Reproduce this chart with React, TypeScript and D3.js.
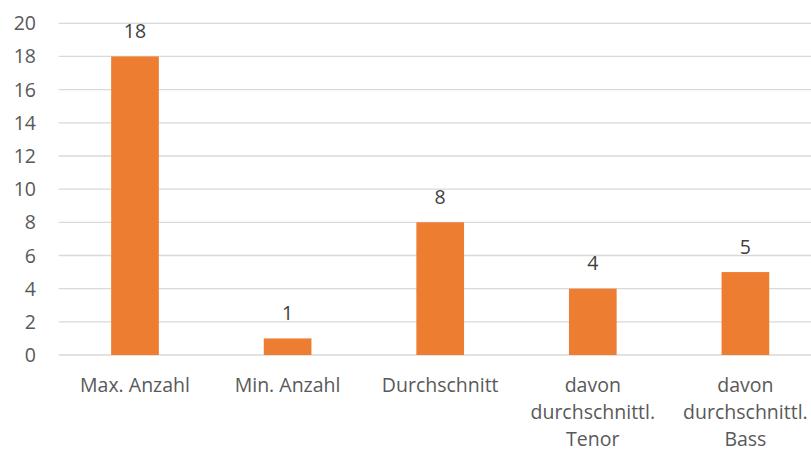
import React, { useEffect, useRef } from 'react';
import * as d3 from 'd3';

const categories = [
  'Max. Anzahl',
  'Min. Anzahl',
  'Durchschnitt',
  'davon durchschnittl. Tenor',
  'davon durchschnittl. Bass',
];
const values = [18, 1, 8, 4, 5];
const yTicks = [0, 2, 4, 6, 8, 10, 12, 14, 16, 18, 20];

const App: React.FC = () => {
  const svgRef = useRef<SVGSVGElement>(null);

  useEffect(() => {
    document.body.style.margin = '0';
    if (!svgRef.current) return;

    const width = 811;
    const height = 452;
    const font = '"Open Sans", sans-serif';
    const textColor = '#595959';
    const fs = '19.5px';

    const svg = d3.select(svgRef.current)
      .attr('width', width)
      .attr('height', height)
      .style('font-family', font)
      .style('display', 'block');

    svg.selectAll('*').remove();

    const x = d3.scaleBand<string>()
      .domain(categories)
      .range([58.7, 821.7])
      .paddingInner(0.6875)
      .paddingOuter(0.34375);

    const y = d3.scaleLinear().domain([0, 20]).range([355, 23.3]);

    // gridlines
    svg.append('g')
      .selectAll('line')
      .data(yTicks)
      .enter().append('line')
      .attr('x1', 58.7)
      .attr('x2', width)
      .attr('y1', d => y(d))
      .attr('y2', d => y(d))
      .attr('stroke', '#D9D9D9')
      .attr('stroke-width', 1.3);

    // y labels
    svg.append('g')
      .selectAll('text')
      .data(yTicks)
      .enter().append('text')
      .attr('x', 36)
      .attr('y', d => y(d))
      .attr('dy', '0.36em')
      .attr('text-anchor', 'end')
      .attr('fill', textColor)
      .style('font-size', fs)
      .text(d => d);

    // bars
    svg.append('g')
      .selectAll('rect')
      .data(values)
      .enter().append('rect')
      .attr('x', (d, i) => x(categories[i])!)
      .attr('width', x.bandwidth())
      .attr('y', d => y(d))
      .attr('height', d => y(0) - y(d))
      .attr('fill', '#ED7D31');

    // value labels
    svg.append('g')
      .selectAll('text')
      .data(values)
      .enter().append('text')
      .attr('x', (d, i) => x(categories[i])! + x.bandwidth() / 2)
      .attr('y', d => y(d) - 18.5)
      .attr('text-anchor', 'middle')
      .attr('fill', '#404040')
      .style('font-size', fs)
      .text(d => d);

    // category labels with word wrap
    const lineHeight = 27;
    const maxW = x.step() - 4;
    categories.forEach(cat => {
      const cx = x(cat)! + x.bandwidth() / 2;
      const t = svg.append('text')
        .attr('x', cx)
        .attr('y', 392)
        .attr('text-anchor', 'middle')
        .attr('fill', textColor)
        .style('font-size', fs);
      const words = cat.split(' ');
      let line: string[] = [];
      let tspan = t.append('tspan').attr('x', cx).attr('dy', 0);
      words.forEach(w => {
        line.push(w);
        tspan.text(line.join(' '));
        if ((tspan.node() as SVGTextContentElement).getComputedTextLength() > maxW && line.length > 1) {
          line.pop();
          tspan.text(line.join(' '));
          line = [w];
          tspan = t.append('tspan').attr('x', cx).attr('dy', lineHeight).text(w);
        }
      });
    });
  }, []);

  return <svg ref={svgRef}></svg>;
};

export default App;
